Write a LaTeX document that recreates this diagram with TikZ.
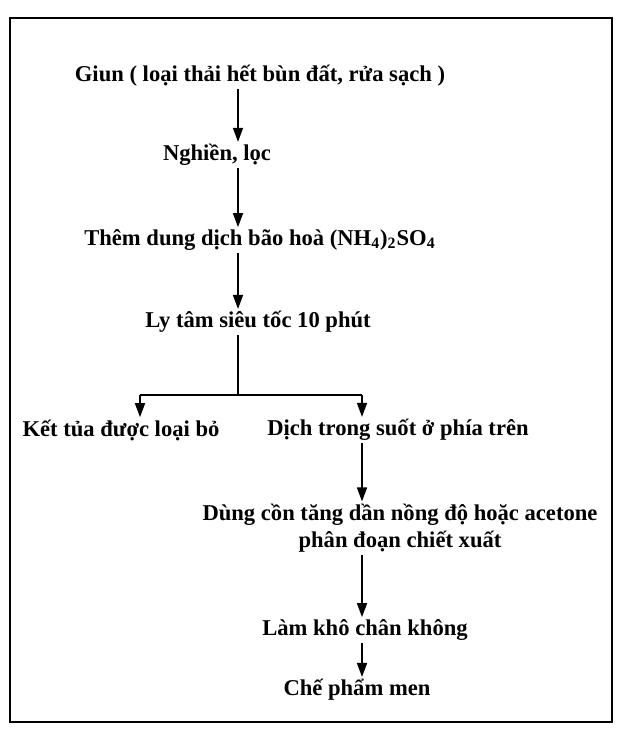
\documentclass[tikz,border=0pt]{standalone}
\usepackage{fontspec}
\setmainfont{Liberation Serif}
\usetikzlibrary{arrows.meta}
\begin{document}
\begin{tikzpicture}[x=0.5pt,y=-0.5pt,
    stage/.style={font=\bfseries\fontsize{11.3}{13.5}\selectfont,inner sep=1pt},
    flow/.style={line width=0.8pt,-{Triangle[width=5pt,length=7pt]}},
    link/.style={line width=0.8pt}]
       \useasboundingbox (0,0) rectangle (622,738);
       \draw[line width=0.9pt] (10,18) rectangle (612,722);

       \node[stage] (giun) at (260,76) {Giun ( loại thải hết bùn đất, rửa sạch )};
       \node[stage] (nghien) at (217,155) {Nghiền, lọc};
       \node[stage] (them) at (260,240) {Thêm dung dịch bão hoà (NH\textsubscript{4})\textsubscript{2}SO\textsubscript{4}};
       \node[stage] (lytam) at (258,322) {Ly tâm siêu tốc 10 phút};

       \node[stage] (kettua) at (121,430) {Kết tủa được loại bỏ};
       \node[stage] (dich) at (398,430) {Dịch trong suốt ở phía trên};

       \node[stage,align=center] (dungcon) at (400,528) {Dùng cồn tăng dần nồng độ hoặc acetone\\phân đoạn chiết xuất};
       \node[stage] (lamkho) at (365,630) {Làm khô chân không};
       \node[stage] (chepham) at (357,690) {Chế phẩm men};

       \coordinate (trunk) at (238,0);
       \coordinate (side) at (362,0);
       \coordinate (fork) at (238,395);
       \coordinate (forkl) at (140,395);
       \coordinate (forkr) at (362,395);

       \draw[flow] (giun.south -| trunk) -- (nghien.north -| trunk);
       \draw[flow] (nghien.south -| trunk) -- (them.north -| trunk);
       \draw[flow] (them.south -| trunk) -- (lytam.north -| trunk);

       \draw[link] (lytam.south -| trunk) -- (fork);
       \draw[link] (forkl) -- (forkr);
       \draw[flow] (forkl) -- (kettua.north -| forkl);
       \draw[flow] (forkr) -- (dich.north -| forkr);

       \draw[flow] (dich.south -| side) -- (dungcon.north -| side);
       \draw[flow] (dungcon.south -| side) -- (lamkho.north -| side);
       \draw[flow] (lamkho.south -| side) -- (chepham.north -| side);
\end{tikzpicture}
\end{document}
